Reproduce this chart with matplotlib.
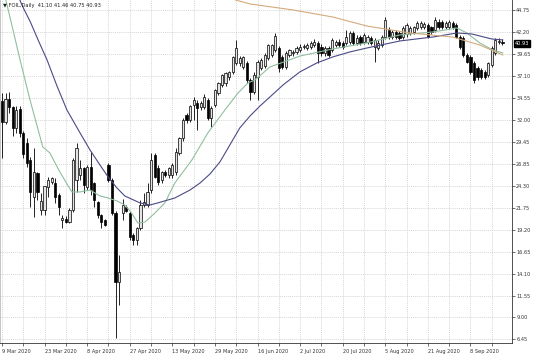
import numpy as np
import matplotlib.pyplot as plt

# daily candles (9 Mar 2020 -> mid Sep 2020)
opens = [34.20, 31.77, 34.44, 33.51, 31.07, 33.28, 30.49, 29.30, 27.34, 23.00,
         25.83, 21.52, 21.52, 24.20, 24.80, 24.66, 23.27, 20.36, 20.47, 20.12,
         21.52, 25.01, 25.60, 26.41, 24.20, 26.53, 24.66, 22.45, 20.94, 20.36,
         26.76, 25.01, 21.17, 13.14, 21.17, 21.87, 21.17, 18.61, 18.03, 19.42,
         22.10, 22.10, 23.85, 27.92, 26.41, 25.01, 25.94, 25.60, 25.60, 25.94,
         28.16, 29.90, 32.58, 32.00, 33.75, 33.98, 33.51, 33.51, 34.33, 32.23,
         33.75, 35.14, 36.08, 36.31, 37.01, 37.59, 38.64, 38.64, 38.17, 38.64,
         36.66, 35.26, 37.01, 38.06, 38.29, 39.22, 39.57, 40.15, 40.38, 39.34,
         38.17, 39.57, 39.80, 39.92, 40.15, 40.50, 40.38, 40.50, 40.73, 40.97,
         40.50, 39.80, 40.38, 40.15, 40.73, 41.08, 40.97, 40.97, 41.08, 42.13,
         40.97, 41.66, 41.08, 41.08, 41.55, 40.50, 40.38, 40.73, 41.66, 42.48,
         41.66, 42.25, 42.13, 41.66, 42.00, 42.13, 42.25, 42.71, 42.83, 42.83,
         43.06, 42.83, 42.48, 43.41, 43.41, 42.83, 42.83, 43.29, 43.06, 41.66,
         41.55, 39.57, 39.34, 38.64, 38.06, 37.82, 37.59, 37.24, 38.40, 39.80,
         41.08, 41.10]
highs = [35.14, 35.14, 35.26, 33.63, 33.60, 33.63, 30.70, 29.90, 27.69, 28.70,
         25.94, 23.50, 24.30, 25.36, 25.36, 25.25, 23.50, 20.94, 20.80, 21.70,
         27.58, 29.30, 27.34, 26.53, 26.70, 28.27, 24.78, 22.60, 21.10, 20.50,
         26.99, 25.25, 21.40, 16.28, 22.80, 22.10, 21.40, 18.84, 19.54, 22.68,
         23.50, 24.66, 28.16, 28.16, 26.76, 26.10, 26.20, 26.50, 27.00, 28.74,
         30.00, 32.20, 32.80, 33.70, 34.68, 34.30, 34.20, 35.00, 34.56, 33.60,
         35.60, 36.40, 37.40, 37.60, 37.70, 39.50, 41.32, 39.50, 39.50, 38.90,
         36.90, 37.60, 39.00, 39.20, 39.80, 40.90, 40.90, 42.13, 40.60, 39.60,
         40.00, 40.30, 40.20, 40.60, 40.80, 40.90, 41.00, 41.20, 41.40, 41.20,
         40.80, 40.60, 40.60, 41.50, 41.30, 41.40, 41.20, 42.48, 42.40, 42.40,
         41.90, 41.90, 42.10, 41.90, 41.80, 41.50, 41.30, 41.90, 43.99, 42.80,
         42.50, 42.50, 42.40, 42.90, 43.30, 42.90, 43.00, 43.50, 43.50, 43.40,
         43.30, 43.00, 43.99, 43.70, 43.60, 43.50, 43.60, 43.50, 43.30, 41.90,
         41.80, 39.80, 39.60, 38.90, 38.30, 38.10, 37.80, 38.80, 40.60, 41.60,
         41.60, 41.46]
lows = [27.58, 31.50, 32.82, 30.14, 30.50, 30.00, 27.60, 26.50, 21.90, 20.71,
        22.68, 20.94, 20.94, 23.03, 24.50, 22.34, 20.94, 19.42, 20.00, 20.00,
        21.29, 23.62, 25.01, 23.50, 23.90, 23.27, 21.87, 20.60, 19.42, 19.60,
        24.78, 20.94, 6.62, 10.46, 20.36, 21.29, 18.03, 17.45, 17.45, 19.19,
        21.87, 21.87, 23.50, 25.25, 24.43, 24.66, 25.40, 25.30, 25.30, 25.60,
        27.90, 29.50, 31.60, 31.80, 32.00, 30.84, 33.20, 33.30, 32.00, 31.19,
        33.50, 34.90, 35.80, 36.00, 36.70, 37.30, 38.40, 38.30, 37.90, 36.30,
        34.33, 35.00, 34.33, 37.80, 38.00, 39.00, 39.30, 39.90, 37.59, 37.90,
        37.90, 39.30, 39.50, 39.70, 39.90, 40.30, 40.10, 40.30, 40.50, 38.64,
        39.50, 39.50, 39.30, 39.90, 40.50, 40.50, 40.30, 40.70, 40.80, 40.70,
        40.70, 40.70, 40.80, 40.80, 40.70, 38.75, 40.10, 40.50, 41.40, 41.40,
        41.40, 41.40, 41.30, 41.40, 41.70, 41.90, 42.00, 42.50, 42.60, 42.60,
        41.50, 42.00, 42.20, 42.60, 42.60, 42.60, 42.60, 42.60, 41.50, 40.30,
        39.30, 38.60, 37.40, 36.31, 36.70, 36.80, 36.80, 37.00, 38.20, 39.60,
        40.80, 40.75]
closes = [31.80, 34.44, 33.51, 31.07, 33.16, 30.49, 28.04, 26.99, 23.62, 26.00,
          23.62, 22.57, 24.32, 25.01, 25.25, 23.03, 21.87, 20.59, 20.12, 21.52,
          27.34, 28.74, 26.41, 24.43, 26.53, 23.85, 22.68, 20.94, 20.12, 19.77,
          25.01, 21.17, 13.14, 14.30, 22.10, 21.40, 18.38, 18.03, 19.42, 22.10,
          22.45, 23.62, 27.34, 25.36, 24.78, 25.94, 25.60, 26.41, 26.76, 28.27,
          29.90, 32.00, 32.00, 33.63, 34.33, 33.40, 33.98, 34.68, 32.23, 33.40,
          35.49, 36.31, 37.24, 37.47, 37.59, 39.34, 40.38, 39.22, 39.34, 36.66,
          35.26, 37.24, 38.75, 38.99, 39.57, 40.73, 40.73, 41.78, 38.06, 38.17,
          39.80, 40.15, 39.92, 40.38, 40.50, 40.62, 40.73, 40.97, 41.08, 39.80,
          39.80, 40.38, 39.57, 41.32, 41.08, 40.73, 40.50, 41.66, 42.13, 40.97,
          41.55, 40.97, 41.90, 41.66, 40.97, 41.32, 40.97, 41.66, 43.64, 41.66,
          42.25, 41.66, 41.55, 42.71, 43.06, 42.71, 42.83, 43.29, 43.29, 43.18,
          41.66, 42.25, 43.64, 42.83, 42.83, 43.29, 43.41, 42.83, 41.66, 40.50,
          39.57, 38.75, 37.59, 36.66, 37.01, 37.01, 37.01, 38.64, 40.38, 41.32,
          41.20, 40.93]

# moving averages, read at points along each line (bar index, price)
ma_green_x = [0, 2.3, 5.1, 7.9, 11.5, 13.5, 16.3, 19.7, 22, 24.8, 27.6, 29.9, 32.4,
              34.6, 36.3, 38.3, 40.3, 43.1, 45.9, 48.7, 53.5, 58, 62.8, 66.5, 69.3,
              71.3, 75.5, 84, 93.2, 102.8, 112.1, 121.4, 128.2, 131, 134.6, 138.3, 141.1]
ma_green_y = [47.84, 43.88, 38.99, 34.33, 28.86, 28.16, 25.94, 23.62, 23.62, 23.85,
              23.15, 22.92, 22.57, 22.10, 21.29, 20.00, 20.12, 21.17, 22.34, 24.66,
              27.34, 30.49, 33.16, 35.14, 36.31, 36.66, 38.17, 39.45, 40.27, 40.97,
              41.90, 42.25, 42.71, 42.13, 40.97, 40.15, 39.80]
ma_blue_x = [4.5, 5.6, 8.0, 10.3, 12.7, 15.5, 18.3, 22, 24.8, 27.6, 29.9, 32.4, 34.6,
             38.9, 41.7, 43.9, 48.7, 53.0, 55.8, 58.6, 61.4, 64.2, 67.0, 69.9, 72.7,
             75.5, 79.2, 83.9, 88.7, 93.2, 98.0, 102.8, 112.1, 121.4, 128.2, 132.4,
             138.0, 141.1]
ma_blue_y = [46.55, 45.39, 43.41, 41.20, 38.99, 35.95, 33.16, 30.49, 28.51, 26.76,
             25.36, 24.08, 23.15, 22.34, 22.10, 22.34, 22.92, 23.85, 24.66, 25.71,
             27.11, 29.09, 31.07, 32.47, 33.63, 34.68, 36.08, 37.59, 38.64, 39.34,
             39.92, 40.38, 41.20, 41.66, 42.13, 42.01, 41.43, 41.32]
ma_tan_x = [62.8, 69.9, 82, 93.2, 102.8, 114.9, 127, 134.6, 141.1]
ma_tan_y = [46.32, 45.51, 44.81, 43.99, 42.94, 42.13, 41.66, 40.73, 39.57]

date_labels = ['9 Mar 2020', '23 Mar 2020', '8 Apr 2020', '27 Apr 2020', '13 May 2020',
               '29 May 2020', '16 Jun 2020', '2 Jul 2020', '20 Jul 2020', '5 Aug 2020',
               '21 Aug 2020', '8 Sep 2020']
price_labels = ['44.75', '42.20', '39.65', '37.10', '34.55', '32.00', '29.45', '26.85',
                '24.30', '21.75', '19.20', '16.65', '14.10', '11.55', '9.00', '6.45']
last_price = 40.93

fig = plt.figure(figsize=(5.36, 3.57), dpi=100)
ax = fig.add_axes([0, 14 / 357, 512 / 536, 343 / 357])

x = np.arange(len(closes))
o = np.array(opens)
c = np.array(closes)
up = c >= o

# wicks then bodies
ax.vlines(x, lows, highs, color='black', lw=0.6, zorder=2)
ax.bar(x[up], (c - o)[up], bottom=o[up], width=0.62, color='#e4e4e4',
       edgecolor='black', lw=0.5, zorder=3)
ax.bar(x[~up], (o - c)[~up], bottom=c[~up], width=0.62, color='black',
       edgecolor='black', lw=0.5, zorder=3)

# moving averages
ax.plot(ma_green_x, ma_green_y, color='#8fbf9f', lw=0.8, zorder=4)
ax.plot(ma_blue_x, ma_blue_y, color='#4a4a86', lw=0.8, zorder=4)
ax.plot(ma_tan_x, ma_tan_y, color='#d4aa7d', lw=0.8, zorder=4)

ax.set_xlim(-0.56, 143.7)
ax.set_ylim(6.03, 45.97)

# axes / grid
price_ticks = [float(s) for s in price_labels]
ax.set_yticks(price_ticks)
ax.set_yticklabels(price_labels)
ax.yaxis.tick_right()
tick_pos = np.arange(0, len(closes), 6)
ax.set_xticks(tick_pos)
xl = []
for k in range(len(tick_pos)):
    xl.append(date_labels[k // 2] if k % 2 == 0 else '')
ax.set_xticklabels(xl, ha='left')
ax.tick_params(axis='both', labelsize=3.6, colors='#333333', length=2, width=0.5, pad=1)
ax.tick_params(axis='x', pad=2)
ax.grid(True, color='#c8c8c8', linestyle=(0, (1.5, 1.5)), lw=0.5, zorder=0)

ax.spines['top'].set_visible(False)
ax.spines['left'].set_color('#bbbbbb')
ax.spines['right'].set_color('#333333')
ax.spines['bottom'].set_color('#333333')
for s in ax.spines.values():
    s.set_linewidth(0.6)

# current price box
ax.text(1.006, last_price, '%.2f' % last_price, transform=ax.get_yaxis_transform(),
        fontsize=3.6, color='white', va='center', ha='left', zorder=6,
        bbox=dict(boxstyle='square,pad=0.2', fc='black', ec='black'))

fig.text(3 / 536, 1 - 5.5 / 357, '\u25bc FOIL,Daily  41.10 41.46 40.75 40.93',
         fontsize=3.7, color='#222222', va='center', ha='left')

fig.savefig('out.png', dpi=100)
